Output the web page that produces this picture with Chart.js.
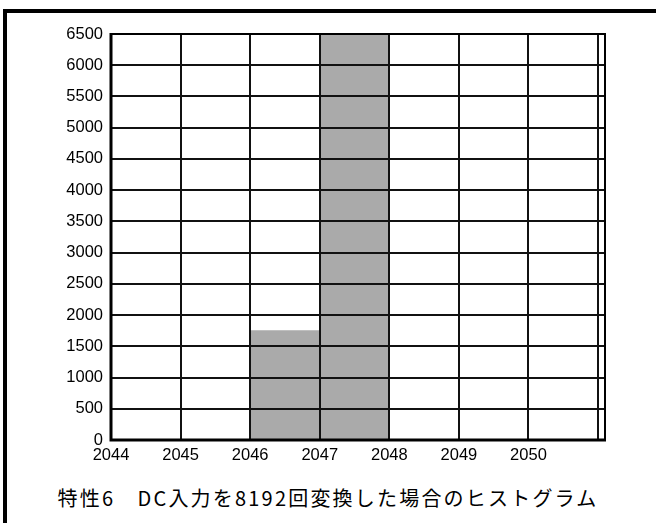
<!DOCTYPE html>
<html>
<head>
<meta charset="utf-8">
<script src="https://cdn.jsdelivr.net/npm/chart.js@4"></script>
<style>
  html, body { margin: 0; padding: 0; background: #fff; overflow: hidden; }
  body { width: 656px; height: 523px; position: relative; }
  #frame {
    position: absolute; left: 3px; top: 9px;
    width: 700px; height: 600px;
    border: 4px solid #000; box-sizing: border-box;
  }
  #chartBox { position: absolute; left: 0; top: 0; width: 656px; height: 470px; }
  #caption {
    position: absolute; left: 0; top: 484px; width: 656px;
    text-align: center; font-family: "Noto Sans CJK JP", sans-serif;
    font-size: 20px; letter-spacing: 2.2px; color: #000; line-height: 28px;
  }
</style>
</head>
<body>
<div id="frame"></div>
<div id="chartBox"><canvas id="myChart" width="656" height="470"></canvas></div>
<div id="caption">特性6　DC入力を8192回変換した場合のヒストグラム</div>
<script>
// histogram bins (lower edge of each code) and the counts
var bins = [2044, 2045, 2046, 2047, 2048, 2049, 2050];
var counts = [0, 0, 1750, 6500, 0, 0, 0];
var yTicks = [0, 6500, 500]; // min, max, step
var xLabels = ['2044', '2045', '2046', '2047', '2048', '2049', '2050'];

var points = [];
for (var i = 0; i < bins.length; i++) {
    points.push({ x: bins[i] + 0.5, y: counts[i] });
}

// frame around the plot area: heavy left/bottom axes, lighter top/right
var plotFrame = {
    id: 'plotFrame',
    afterDraw: function (chart) {
        var a = chart.chartArea;
        var ctx = chart.ctx;
        ctx.save();
        ctx.strokeStyle = '#000';
        ctx.lineWidth = 2;
        ctx.beginPath();
        ctx.moveTo(a.left, a.top);
        ctx.lineTo(a.right, a.top);
        ctx.lineTo(a.right, a.bottom);
        ctx.stroke();
        ctx.lineWidth = 3;
        ctx.beginPath();
        ctx.moveTo(a.left, a.top - 1);
        ctx.lineTo(a.left, a.bottom);
        ctx.lineTo(a.right + 1, a.bottom);
        ctx.stroke();
        ctx.restore();
    }
};

var tickFont = { family: '"Liberation Sans", Arial, sans-serif', size: 16.5 };

var myChart = document.getElementById("myChart");
var histChart = new Chart(myChart, {
    type: 'bar',
    data: {
        datasets: [{
            data: points,
            backgroundColor: '#aaaaaa',
            borderWidth: 0,
            barPercentage: 1,
            categoryPercentage: 1
        }]
    },
    options: {
        responsive: false,
        maintainAspectRatio: false,
        animation: false,
        layout: { padding: { top: 34, right: 51, left: 0, bottom: 0 } },
        plugins: {
            legend: { display: false },
            tooltip: { enabled: false }
        },
        scales: {
            x: {
                type: 'linear',
                min: 2044,
                max: 2051.1,
                offset: false,
                border: { display: false },
                grid: { color: '#111', lineWidth: 2, drawTicks: false, offset: false, z: 1 },
                ticks: {
                    stepSize: 1,
                    includeBounds: false,
                    padding: 6,
                    maxRotation: 0,
                    autoSkip: false,
                    color: '#000',
                    font: tickFont,
                    callback: function (v) {
                        var idx = bins.indexOf(v);
                        return idx >= 0 ? xLabels[idx] : '';
                    }
                },
                afterFit: function (scale) { scale.height = 30; }
            },
            y: {
                min: yTicks[0],
                max: yTicks[1],
                border: { display: false },
                grid: { color: '#111', lineWidth: 2, drawTicks: false, z: 1 },
                ticks: {
                    stepSize: yTicks[2],
                    padding: 8,
                    color: '#000',
                    font: tickFont,
                    callback: function (v) { return String(v); }
                },
                afterFit: function (scale) { scale.width = 111; }
            }
        }
    },
    plugins: [plotFrame]
});
</script>
</body>
</html>
